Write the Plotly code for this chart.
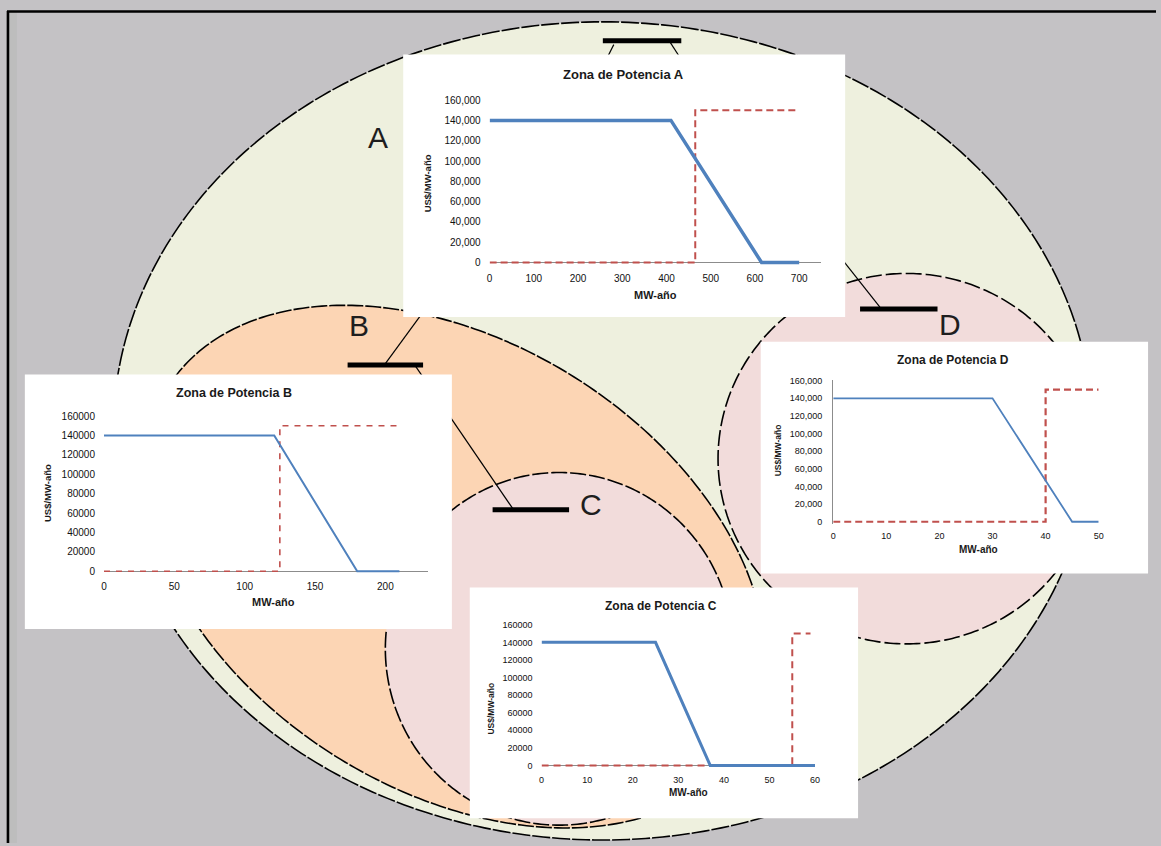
import numpy as np
import plotly.graph_objects as go

W, H = 1161, 846

# ---------------- data ----------------
chart_titles = ["Zona de Potencia A", "Zona de Potencia B", "Zona de Potencia C", "Zona de Potencia D"]
zone_labels = ["A", "B", "C", "D"]
x_axis_title = "MW-año"
y_axis_title = "US$/MW-año"

y_tick_values = [0, 20000, 40000, 60000, 80000, 100000, 120000, 140000, 160000]
a_x_ticks = [0, 100, 200, 300, 400, 500, 600, 700]
b_x_ticks = [0, 50, 100, 150, 200]
c_x_ticks = [0, 10, 20, 30, 40, 50, 60]
d_x_ticks = [0, 10, 20, 30, 40, 50]

a_demand_x = [0, 410, 615, 700]
a_demand_y = [140000, 140000, 0, 0]
a_offer_x = [0, 465, 465, 700]
a_offer_y = [0, 0, 150000, 150000]

b_demand_x = [0, 121, 180, 210]
b_demand_y = [140000, 140000, 0, 0]
b_offer_x = [0, 125, 125, 210]
b_offer_y = [0, 0, 150000, 150000]

c_demand_x = [0, 25, 37, 60]
c_demand_y = [140000, 140000, 0, 0]
c_offer_x = [0, 55, 55, 59]
c_offer_y = [0, 0, 150000, 150000]

d_demand_x = [0, 30, 45, 50]
d_demand_y = [140000, 140000, 0, 0]
d_offer_x = [0, 40, 40, 50]
d_offer_y = [0, 0, 150000, 150000]

# ---------------- style / geometry (pixels) ----------------
BLUE = "#4F81BD"
RED = "#C0504D"
BG = "#C4C2C5"
GREEN = "#EEF0DE"
ORANGE = "#FCD5B4"
PINK = "#F2DCDB"
FONT = "Liberation Sans"


def PX(x):
    return x / W


def PY(y):
    return 1 - y / H


panels = [
    dict(box=(403, 50, 848, 315), x0=490, xs=(801.7 - 490) / 700, xmax=750, y0=260, y160=96,
         xt=a_x_ticks, fmt=",d", fs=10, dem=(a_demand_x, a_demand_y), off=(a_offer_x, a_offer_y),
         dw=3.5, ow=2.0, dash="7px,4px", title=(625, 70, 13), xtitle=(657, 293, 11), ytitle=(427, 180, 9.5),
         yline=False, zline=True),
    dict(box=(22, 373, 452, 630), x0=101.7, xs=(385 - 101.7) / 200, xmax=230, y0=571.7, y160=415,
         xt=b_x_ticks, fmt="d", fs=10, dem=(b_demand_x, b_demand_y), off=(b_offer_x, b_offer_y),
         dw=2.0, ow=1.6, dash="6px,6px", title=(233, 392, 12.5), xtitle=(272, 603, 11), ytitle=(45, 493, 9.5),
         yline=False, zline=True),
    dict(box=(470, 588, 861, 821), x0=542.3, xs=(817.7 - 542.3) / 60, xmax=60, y0=767.7, y160=625.7,
         xt=c_x_ticks, fmt="d", fs=9, dem=(c_demand_x, c_demand_y), off=(c_offer_x, c_offer_y),
         dw=3.0, ow=2.0, dash="7px,5px", title=(663, 607, 12), xtitle=(690, 795, 10), ytitle=(491.7, 710, 8.5),
         yline=False, zline=True),
    dict(box=(763, 340, 1153, 574), x0=836, xs=(1103.3 - 836) / 50, xmax=50, y0=521.7, y160=379.3,
         xt=d_x_ticks, fmt=",d", fs=9, dem=(d_demand_x, d_demand_y), off=(d_offer_x, d_offer_y),
         dw=1.8, ow=2.2, dash="7px,4px", title=(956.7, 358, 12), xtitle=(982.7, 550, 10), ytitle=(780, 450, 8.5),
         yline=True, zline=False),
]

YMIN, YMAX = -3000, 160500

fig = go.Figure()
layout_axes = {}
annotations = []

for i, p in enumerate(panels):
    n = "" if i == 0 else str(i + 1)
    xa, ya = "x" + n, "y" + n
    ppu = (p["y0"] - p["y160"]) / 160000.0
    ybot = p["y0"] - YMIN * ppu
    ytop = p["y0"] - YMAX * ppu
    xleft = p["x0"]
    xright = p["x0"] + p["xmax"] * p["xs"]
    tickfont = dict(family=FONT, size=p["fs"], color="#111111")
    layout_axes["xaxis" + n] = dict(
        domain=[PX(xleft), PX(xright)], range=[0, p["xmax"]], anchor=ya,
        tickmode="array", tickvals=p["xt"], showgrid=False, zeroline=False,
        showline=False, ticks="", tickfont=tickfont, ticklabelstandoff=5,
        layer="below traces", fixedrange=True,
    )
    layout_axes["yaxis" + n] = dict(
        domain=[PY(ybot), PY(ytop)], range=[YMIN, YMAX], anchor=xa,
        tickmode="array", tickvals=y_tick_values, tickformat=p["fmt"],
        showgrid=False, zeroline=p["zline"], zerolinecolor="#8C8C8C", zerolinewidth=1.3,
        showline=p["yline"], linecolor="#8C8C8C", linewidth=1.3,
        ticks="", tickfont=tickfont, ticklabelstandoff=8,
        layer="below traces", fixedrange=True,
    )
    fig.add_trace(go.Scatter(x=p["off"][0], y=p["off"][1], mode="lines",
                             line=dict(color=RED, width=p["ow"], dash=p["dash"]),
                             xaxis=xa, yaxis=ya, hoverinfo="skip", showlegend=False))
    fig.add_trace(go.Scatter(x=p["dem"][0], y=p["dem"][1], mode="lines",
                             line=dict(color=BLUE, width=p["dw"]),
                             xaxis=xa, yaxis=ya, hoverinfo="skip", showlegend=False))
    tx, ty, ts = p["title"]
    annotations.append(dict(text=chart_titles[i], x=PX(tx), y=PY(ty), xref="paper", yref="paper",
                            showarrow=False, xanchor="center", yanchor="middle",
                            font=dict(family=FONT, size=ts, color="#1a1a1a", weight="bold")))
    tx, ty, ts = p["xtitle"]
    annotations.append(dict(text=x_axis_title, x=PX(tx), y=PY(ty), xref="paper", yref="paper",
                            showarrow=False, xanchor="center", yanchor="middle",
                            font=dict(family=FONT, size=ts, color="#1a1a1a", weight="bold")))
    tx, ty, ts = p["ytitle"]
    annotations.append(dict(text=y_axis_title, x=PX(tx), y=PY(ty), xref="paper", yref="paper",
                            showarrow=False, xanchor="center", yanchor="middle", textangle=-90,
                            font=dict(family=FONT, size=ts, color="#1a1a1a", weight="bold")))

# zone letters
letter_pos = [(378, 134), (358, 324), (592, 504), (954, 323)]
for lab, (lx, ly) in zip(zone_labels, letter_pos):
    annotations.append(dict(text=lab, x=PX(lx), y=PY(ly), xref="paper", yref="paper",
                            showarrow=False, xanchor="center", yanchor="middle",
                            font=dict(family=FONT, size=30, color="#1e1e1e")))


def ellipse_path(cx, cy, a, b, ang_deg, n=360):
    t = np.linspace(0, 2 * np.pi, n, endpoint=False)
    th = np.radians(ang_deg)
    x = cx + a * np.cos(t) * np.cos(th) - b * np.sin(t) * np.sin(th)
    y = cy + a * np.cos(t) * np.sin(th) + b * np.sin(t) * np.cos(th)
    pts = [f"{PX(xi):.5f},{PY(yi):.5f}" for xi, yi in zip(x, y)]
    return "M " + " L ".join(pts) + " Z"


def line_shape(x0, y0, x1, y1, width, color="black", dash="solid"):
    return dict(type="line", xref="paper", yref="paper", x0=PX(x0), y0=PY(y0), x1=PX(x1), y1=PY(y1),
                line=dict(color=color, width=width, dash=dash), layer="below")


shapes = []
# left lighter strip and frame
shapes.append(dict(type="rect", xref="paper", yref="paper", x0=PX(6), x1=PX(14), y0=0, y1=PY(7),
                   fillcolor="#BDBDBD", line=dict(width=0), layer="below"))
shapes.append(line_shape(5, 6, 5, 846, 2.6))
shapes.append(line_shape(4, 6.5, 1161, 6.5, 2.6))

ellipses = [
    ((604, 430, 493, 413, 0), GREEN, "18px,2px"),
    ((455, 567, 341, 226, 32.2), ORANGE, "16px,2px"),
    ((560, 650, 175, 178, 0), PINK, "16px,3px"),
    ((910, 458, 190, 187, 0), PINK, "16px,4px"),
]
for (cx, cy, a, b, ang), fc, dsh in ellipses:
    shapes.append(dict(type="path", xref="paper", yref="paper", path=ellipse_path(cx, cy, a, b, ang),
                       fillcolor=fc, line=dict(color="black", width=1.6, dash=dsh), layer="below"))

# connector lines
shapes.append(line_shape(615, 40, 609, 52, 1.2))
shapes.append(line_shape(672, 38, 681, 52, 1.2))
shapes.append(line_shape(385, 362, 420, 314, 1.2))
shapes.append(line_shape(415, 364, 513, 508, 1.2))
shapes.append(line_shape(838, 248, 883, 305, 1.2))
# bars
shapes.append(line_shape(604, 36, 683, 36, 5))
shapes.append(line_shape(347, 363.5, 423, 363.5, 5))
shapes.append(line_shape(493, 509.5, 570, 509.5, 5))
shapes.append(line_shape(863, 307, 941, 307, 5))

# white chart boxes
for p in panels:
    bx0, by0, bx1, by1 = p["box"]
    shapes.append(dict(type="rect", xref="paper", yref="paper", x0=PX(bx0), x1=PX(bx1), y0=PY(by1), y1=PY(by0),
                       fillcolor="white", line=dict(width=0), layer="below"))

fig.update_layout(
    width=W, height=H, margin=dict(l=0, r=0, t=0, b=0),
    paper_bgcolor=BG, plot_bgcolor="rgba(0,0,0,0)",
    showlegend=False, shapes=shapes, annotations=annotations,
    **layout_axes,
)

fig.write_html("out.html", config={"displayModeBar": False},
               post_script="document.body.style.margin='0';document.body.style.overflow='hidden';")
